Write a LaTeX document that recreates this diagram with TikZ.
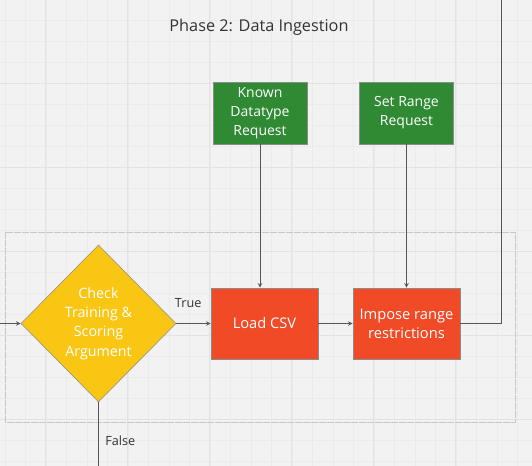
\documentclass[tikz,border=0pt]{standalone}
\usepackage{xcolor}
\usepackage{tikz}
\usepackage{fontspec}
\setmainfont{Open Sans}
\usetikzlibrary{shapes.geometric}

\definecolor{reqgreen}{HTML}{2F8A33}
\definecolor{steporange}{HTML}{F04A27}
\definecolor{checkyellow}{HTML}{F9C614}
\definecolor{boardbg}{HTML}{F2F2F2}
\definecolor{gridminor}{HTML}{EBEBEB}
\definecolor{gridmajor}{HTML}{E3E3E3}
\definecolor{linegray}{HTML}{555555}

\begin{document}
\begin{tikzpicture}[x=0.75pt, y=-0.75pt]
        % Define styles
        \tikzset{
            request/.style={rectangle, draw=black!45, fill=reqgreen, text=white, minimum width=70.5pt, minimum height=46.5pt, align=center, font=\fontsize{10.5}{14.25}\selectfont},
            process/.style={rectangle, draw=black!45, fill=steporange, text=white, minimum width=80.25pt, minimum height=53.25pt, align=center, font=\fontsize{11}{14.25}\selectfont},
            decision/.style={diamond, draw=black!45, fill=checkyellow, text=white, minimum width=116.25pt, minimum height=117.75pt, inner sep=0pt, align=center, font=\fontsize{10.7}{14.5}\selectfont},
            branch/.style={text=black!80, font=\fontsize{9.5}{11}\selectfont},
            arrow/.style={->,>=stealth, draw=linegray, line width=0.6pt},
            wire/.style={draw=linegray, line width=0.6pt},
            frame/.style={draw=black!22, line width=0.7pt, dash pattern=on 5pt off 1pt}
        }

        % Board
        \useasboundingbox (0,0) rectangle (532,466);
        \fill[boardbg] (0,0) rectangle (532,466);
        \foreach \i in {0,...,25} \draw[gridminor, line width=0.5pt] (4.9+20.5*\i,0) -- (4.9+20.5*\i,466);
        \foreach \j in {1,...,22} \draw[gridminor, line width=0.5pt] (0,-1+21*\j) -- (532,-1+21*\j);
        \foreach \i in {2,6,...,22} \draw[gridmajor, line width=0.7pt] (4.9+20.5*\i,0) -- (4.9+20.5*\i,466);
        \foreach \j in {4,8,...,20} \draw[gridmajor, line width=0.7pt] (0,-1+21*\j) -- (532,-1+21*\j);
        \draw[frame] (5,232) rectangle (515,422);

        % Nodes
        \node[text=black!80, font=\fontsize{12.2}{15}\selectfont] (title) at (259,27) {Phase 2: Data Ingestion};
        \node[request] (known_req) at (260,113) {Known\\Datatype\\Request};
        \node[request] (range_req) at (406.5,113) {Set Range\\Request};
        \node[decision] (check_args) at (98.5,323.5) {Check\\Training \&\\Scoring\\Argument};
        \node[process] (load_csv) at (264.5,323.5) {Load CSV};
        \node[process] (impose_range) at (406.5,323.5) {Impose range\\restrictions};
        \coordinate (enter) at (0,323.5);
        \coordinate (leave) at (501,0);
        \coordinate (false_end) at (98.5,466);

        % Arrows
        \draw[arrow] (enter) -- (check_args.west);
        \draw[arrow] (check_args.east) -- (load_csv.west) node[branch, midway, above=8pt, xshift=-4pt] {True};
        \draw[arrow] (load_csv) -- (impose_range);
        \draw[arrow] (known_req) -- (known_req |- load_csv.north);
        \draw[arrow] (range_req) -- (range_req |- impose_range.north);
        \draw[wire] (impose_range.east) -| (leave);
        \draw[wire] (check_args.south) -- (false_end) node[branch, pos=0.6, right=1.5pt] {False};
    \end{tikzpicture}
\end{document}
